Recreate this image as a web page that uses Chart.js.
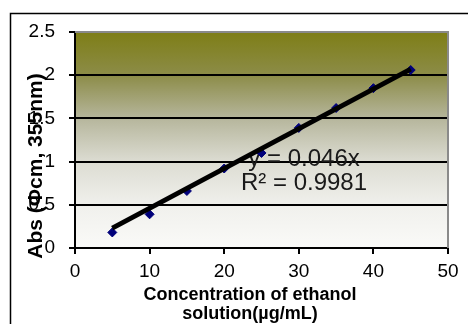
<!DOCTYPE html>
<html>
<head>
<meta charset="utf-8">
<script src="https://cdn.jsdelivr.net/npm/chart.js@4/dist/chart.umd.min.js"></script>
<style>
  html, body { margin: 0; padding: 0; background: #ffffff; }
  #wrap { width: 468px; height: 324px; position: relative; }
</style>
</head>
<body>
<div id="wrap"><canvas id="chart" width="468" height="324"></canvas></div>
<script>
// Calibration data: ethanol concentration (µg/mL) vs absorbance
const concentrations = [5, 10, 15, 20, 25, 30, 35, 40, 45];
const absorbance = [0.18, 0.39, 0.66, 0.92, 1.10, 1.39, 1.62, 1.85, 2.06];

// Linear fit through the origin
const trendSlope = 0.046;
const rSquared = 0.9981;
const trendRange = [5, 45];

// Axis ticks
const xTicks = [0, 10, 20, 30, 40, 50];
const yTicks = [0, 0.5, 1, 1.5, 2, 2.5];

const xTitle = ['Concentration of ethanol', 'solution(\u00b5g/mL)'];
const yTitle = 'Abs (\u03a6cm, 355nm)';

const FONT = '"Liberation Sans", Arial, sans-serif';

const points = concentrations.map((c, i) => ({ x: c, y: absorbance[i] }));
const trendPoints = trendRange.map(x => ({ x: x, y: trendSlope * x }));

// Outer frame and gradient plot background
const framePlugin = {
  id: 'frame',
  beforeDraw(chart) {
    const { ctx, chartArea: a } = chart;
    ctx.save();
    ctx.fillStyle = '#ffffff';
    ctx.fillRect(0, 0, chart.width, chart.height);
    ctx.strokeStyle = '#000000';
    ctx.lineWidth = 1.5;
    ctx.beginPath();
    ctx.moveTo(10.5, chart.height + 5);
    ctx.lineTo(10.5, 13.5);
    ctx.lineTo(chart.width + 5, 13.5);
    ctx.stroke();

    const g = ctx.createLinearGradient(0, a.top, 0, a.bottom);
    g.addColorStop(0.00, '#7e7e16');
    g.addColorStop(0.20, '#8c8c48');
    g.addColorStop(0.40, '#b6b69c');
    g.addColorStop(0.60, '#dcdcd2');
    g.addColorStop(0.80, '#f0f0ec');
    g.addColorStop(1.00, '#fafaf8');
    ctx.fillStyle = g;
    ctx.fillRect(a.left, a.top, a.right - a.left, a.bottom - a.top);
    ctx.restore();
  },
  beforeDatasetsDraw(chart) {
    const { ctx, chartArea: a } = chart;
    ctx.save();
    // plot area border (top and right)
    ctx.strokeStyle = '#8a8a8a';
    ctx.lineWidth = 2;
    ctx.beginPath();
    ctx.moveTo(a.left, a.top);
    ctx.lineTo(a.right, a.top);
    ctx.lineTo(a.right, a.bottom);
    ctx.stroke();

    // trendline equation
    const xs = chart.scales.x, ys = chart.scales.y;
    ctx.fillStyle = '#1a1a1a';
    ctx.font = '24px ' + FONT;
    ctx.textAlign = 'center';
    ctx.textBaseline = 'middle';
    const cx = xs.getPixelForValue(30.7);
    ctx.fillText('y = ' + trendSlope + 'x', cx, ys.getPixelForValue(1.03));
    ctx.fillText('R\u00b2 = ' + rSquared, cx, ys.getPixelForValue(0.75));

    // axis titles
    ctx.font = 'bold 18px ' + FONT;
    ctx.fillStyle = '#000000';
    const tx = 250;
    ctx.fillText(xTitle[0], tx, 295);
    ctx.fillText(xTitle[1], tx, 314);

    ctx.save();
    ctx.translate(36, 166);
    ctx.rotate(-Math.PI / 2);
    ctx.font = 'bold 21px ' + FONT;
    ctx.fillText(yTitle, 0, 0);
    ctx.restore();
    ctx.restore();
  }
};

new Chart(document.getElementById('chart'), {
  type: 'scatter',
  data: {
    datasets: [
      {
        label: 'Linear fit',
        type: 'line',
        data: trendPoints,
        borderColor: '#000000',
        borderWidth: 5,
        pointRadius: 0,
        fill: false,
        order: 0
      },
      {
        label: 'Absorbance',
        data: points,
        pointStyle: 'rectRot',
        pointRadius: 4.5,
        pointBackgroundColor: '#00007a',
        pointBorderColor: '#00007a',
        pointBorderWidth: 1,
        order: 1
      }
    ]
  },
  options: {
    responsive: false,
    animation: false,
    devicePixelRatio: 1,
    layout: { padding: { top: 32, right: 20, left: 0, bottom: 0 } },
    plugins: { legend: { display: false }, tooltip: { enabled: false } },
    scales: {
      x: {
        type: 'linear',
        min: xTicks[0],
        max: xTicks[xTicks.length - 1],
        afterBuildTicks(scale) { scale.ticks = xTicks.map(v => ({ value: v })); },
        afterFit(scale) { scale.height = 76; },
        border: { display: true, color: '#000000', width: 2 },
        grid: { drawOnChartArea: false, drawTicks: true, tickLength: 6, tickColor: '#000000', tickWidth: 2, lineWidth: 2 },
        ticks: { color: '#000000', font: { family: FONT, size: 19 }, padding: 6, callback: v => String(v) }
      },
      y: {
        type: 'linear',
        min: yTicks[0],
        max: yTicks[yTicks.length - 1],
        afterBuildTicks(scale) { scale.ticks = yTicks.map(v => ({ value: v })); },
        afterFit(scale) { scale.width = 75; },
        border: { display: true, color: '#000000', width: 2 },
        grid: {
          drawOnChartArea: true,
          drawTicks: true,
          tickLength: 6,
          tickColor: '#000000',
          tickWidth: 2,
          lineWidth: 2,
          color: ctx => (ctx.tick && (ctx.tick.value === 0 || ctx.tick.value === 2.5)) ? 'rgba(0,0,0,0)' : '#000000'
        },
        ticks: { color: '#000000', font: { family: FONT, size: 19 }, padding: 14, callback: v => String(v) }
      }
    }
  },
  plugins: [framePlugin]
});
</script>
</body>
</html>
